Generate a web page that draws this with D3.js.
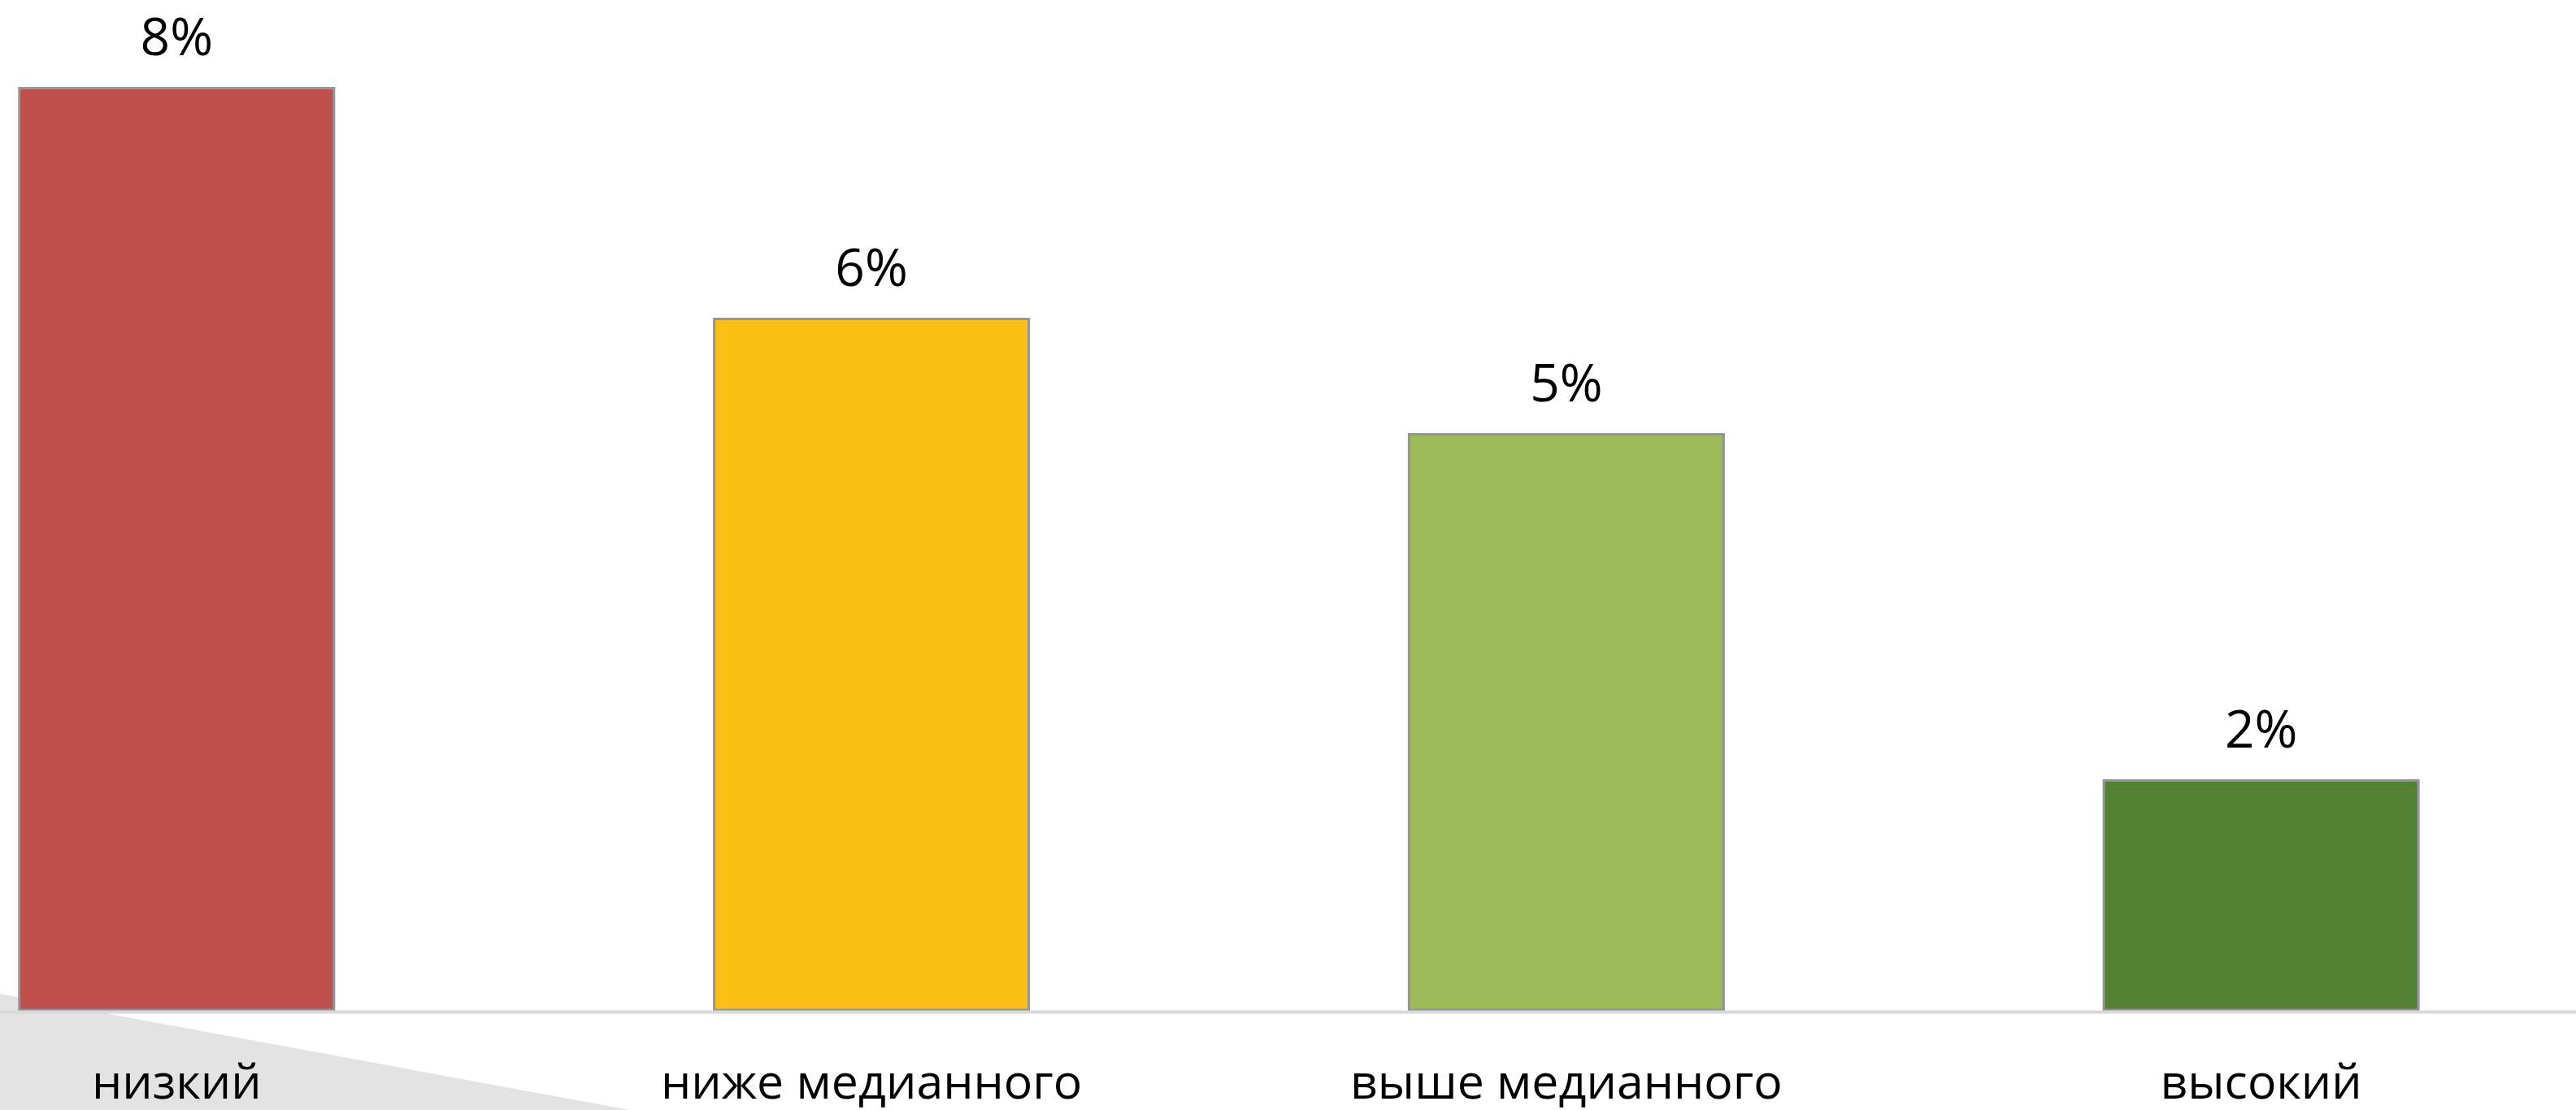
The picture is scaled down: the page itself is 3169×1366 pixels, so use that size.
<!DOCTYPE html>
<html>
<head>
<meta charset="utf-8">
<script src="https://cdnjs.cloudflare.com/ajax/libs/d3/7.8.5/d3.min.js"></script>
<style>
	html, body { margin: 0; padding: 0; background: #fff; overflow: hidden; }
	svg { display: block; }
	text { font-family: 'Open Sans', 'Noto Sans', sans-serif; fill: #000; }
</style>
</head>
<body>
<div class="chart-container"></div>
<script>
const categories = [ 'низкий', 'ниже медианного', 'выше медианного', 'высокий' ];
const values = [ 0.08, 0.06, 0.05, 0.02 ];
const colors = [ '#C0504D', '#FBBF16', '#9BBB59', '#548235' ];

let width = 3169,
	height = 1366;

let svg = d3
	.select('.chart-container')
	.append('svg')
	.attr('width', width)
	.attr('height', height);

// slide decoration behind the chart (grey wedge bottom left)
svg
	.append('path')
	.attr('d', 'M0,1223 L775,1366 L0,1366 Z')
	.attr('fill', '#E3E3E3');

// plot area is wider than the picture, it is cut on both sides
let x = d3
	.scaleBand()
	.domain(categories)
	.range([ -210, 3209 ])
	.paddingInner(0.5437)
	.paddingOuter(0.2718);

let y = d3.scaleLinear().domain([ 0, 0.08 ]).range([ 1243, 107 ]);

let data = categories.map((c, i) => ({ name: c, value: values[i], color: colors[i] }));

svg
	.selectAll('.bar')
	.data(data)
	.enter()
	.append('rect')
	.attr('class', 'bar')
	.attr('x', (d) => x(d.name) + 1.5)
	.attr('y', (d) => y(d.value) + 1.5)
	.attr('width', x.bandwidth() - 3)
	.attr('height', (d) => y(0) - y(d.value) - 1.5)
	.attr('fill', (d) => d.color)
	.attr('stroke', '#939598')
	.attr('stroke-width', 3);

let axis = svg
	.append('g')
	.attr('transform', 'translate(0,' + (y(0) + 2) + ')')
	.call(d3.axisBottom(x).tickSize(0).tickPadding(0));

axis.select('.domain').attr('stroke', '#D9D9D9').attr('stroke-width', 4);
axis.selectAll('.tick text').remove();

svg
	.selectAll('.cat')
	.data(data)
	.enter()
	.append('text')
	.attr('class', 'cat')
	.attr('x', (d) => x(d.name) + x.bandwidth() / 2)
	.attr('y', 1352)
	.attr('text-anchor', 'middle')
	.style('font-size', '59px')
	.text((d) => d.name);

svg
	.selectAll('.val')
	.data(data)
	.enter()
	.append('text')
	.attr('class', 'val')
	.attr('x', (d) => x(d.name) + x.bandwidth() / 2)
	.attr('y', (d) => y(d.value) - 39)
	.attr('text-anchor', 'middle')
	.style('font-size', '64px')
	.text((d) => d3.format('.0%')(d.value));
</script>
</body>
</html>
